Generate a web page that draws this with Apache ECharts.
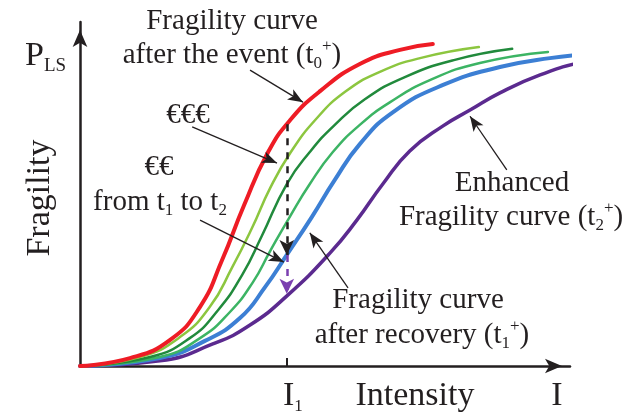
<!DOCTYPE html>
<html><head><meta charset="utf-8">
<script src="https://cdn.jsdelivr.net/npm/echarts@6/dist/echarts.min.js"></script>
<style>html,body{margin:0;padding:0;background:#fff}#c{width:630px;height:414px}</style>
</head><body><div id="c"></div>
<script>
// Intensity (0-100 scale of the axis) vs probability of exceeding limit state (0-100)
const redCurve = [[0,0],[10.2,2.3],[18.4,7.6],[24.5,17.2],[29.0,30.8],[33.5,46.8],[38.4,62.2],[42.9,71.5],[49.0,79.9],[57.1,87.8],[65.3,91.9],[72.0,93.6]];
const lightGreenCurve = [[0,0],[12.2,2.6],[20.4,8.4],[26.5,17.2],[31.0,28.5],[35.1,40.1],[38.8,51.7],[42.9,61.9],[48.0,71.5],[54.1,79.7],[61.2,85.5],[69.4,89.5],[81.4,92.7]];
const darkGreenCurve = [[0,0],[14.3,2.6],[22.4,8.1],[28.2,16.3],[33.1,26.5],[37.1,37.8],[42.2,52.9],[46.9,62.2],[52.0,70.1],[58.2,77.6],[66.3,84.0],[76.5,89.0],[88.2,92.2]];
const midGreenCurve = [[0,0],[16.3,2.6],[24.5,8.1],[30.6,15.7],[35.3,24.4],[38.8,33.4],[42.9,43.6],[46.9,52.9],[51.6,62.2],[57.1,70.1],[63.3,76.7],[71.4,83.1],[81.6,88.1],[95.5,91.3]];
const blueCurve = [[0,0],[16.3,2.3],[25.5,7.3],[32.7,14.0],[37.8,23.0],[42.2,32.3],[47.3,43.3],[52.0,54.1],[57.1,64.5],[63.9,73.8],[74.1,81.7],[85.7,86.9],[95.9,89.5],[104.7,90.7]];
const purpleCurve = [[0,0],[16.3,1.5],[27.1,6.4],[34.7,11.9],[42.4,20.6],[51.0,32.8],[56.5,42.4],[61.8,52.9],[67.3,62.5],[74.1,69.8],[79.6,74.4],[85.7,79.4],[93.9,84.6],[102.7,88.4],[112.2,90.4]];
const I1 = 42.2;
const pRed = 70.3, pBlue = 32.3, pPurple = 21.0;

const FF = '"Liberation Serif", "Times New Roman", serif';
const TXT = '#231f20';
const chart = echarts.init(document.getElementById('c'), null, {renderer: 'canvas'});

function curve(name, data, color, width) {
  return {name, type: 'line', data, smooth: 0.5, showSymbol: false,
    clip: false, silent: true, lineStyle: {color, width, cap: 'round'}, z: 3};
}
function arrow(a, b, color, width, type, size) {
  return [{coord: a, symbol: 'none'},
          {coord: b, symbol: 'arrow', symbolSize: size || [9, 15],
           lineStyle: {color, width, type: type || 'solid'}, itemStyle: {color}}];
}
const rich = {
  sub: {fontSize: 17, lineHeight: 17, verticalAlign: 'bottom', fontFamily: FF, fill: TXT},
  sup: {fontSize: 17, lineHeight: 17, verticalAlign: 'top', fontFamily: FF, fill: TXT},
  lsub: {fontSize: 19, lineHeight: 19, verticalAlign: 'bottom', fontFamily: FF, fill: TXT}
};
function label(text, x, y, size, align, extra) {
  return Object.assign({type: 'text', x, y, silent: true, z: 10,
    style: {text, fontSize: size, fontFamily: FF, fill: TXT, align: align || 'center',
      verticalAlign: 'middle', lineHeight: size + 5, rich}}, extra || {});
}

const series = [
  curve('t2+', purpleCurve, '#5b2a8f', 3.5),
  curve('t1+', blueCurve, '#3c7fd4', 4),
  curve('c4', midGreenCurve, '#3cb464', 2.5),
  curve('c3', darkGreenCurve, '#218a3c', 2.5),
  curve('c2', lightGreenCurve, '#8cc63f', 2.5),
  curve('t0+', redCurve, '#ee1c25', 4)
];
series[0].markLine = {
  silent: true, animation: false, label: {show: false}, symbol: ['none', 'arrow'],
  data: [
    arrow([I1, pRed], [I1, pBlue], '#231f20', 2.5, [7, 7], [11, 15]),
    arrow([I1, pBlue], [I1, pPurple], '#7b3fb0', 2.5, [7, 7], [11, 15]),
    [{coord: [I1, 0], symbol: 'none'}, {coord: [I1, 2.8], symbol: 'none', lineStyle: {color: '#231f20', width: 2}}],
    arrow([34.7, 86.0], [45.5, 76.7], '#231f20', 1.3),
    arrow([22.9, 69.5], [40.2, 59.0], '#231f20', 1.3),
    arrow([24.5, 42.4], [41.6, 30.2], '#231f20', 1.3),
    arrow([54.7, 22.7], [46.9, 38.7], '#231f20', 1.3),
    arrow([87.1, 57.0], [79.6, 72.6], '#231f20', 1.3)
  ]
};

const axisCommon = {
  type: 'value', min: 0, max: 100,
  axisLine: {show: true, symbol: ['none', 'arrow'], symbolSize: [11, 17], symbolOffset: [0, -8],
    lineStyle: {color: '#231f20', width: 2.5}},
  axisTick: {show: false}, axisLabel: {show: false}, splitLine: {show: false}
};

chart.setOption({
  animation: false,
  backgroundColor: '#fff',
  grid: {left: 80, right: 60, top: 22, bottom: 48},
  xAxis: Object.assign({}, axisCommon),
  yAxis: Object.assign({}, axisCommon),
  series,
  graphic: [
    label('Fragility curve', 232, 21, 29),
    label('after the event (t{sub|0}{sup|+})', 232, 55, 29),
    label('€€€', 188, 115, 29),
    label('€€', 159, 167, 29),
    label('from t{sub|1} to t{sub|2}', 160, 202, 29),
    label('Enhanced', 512, 183, 29),
    label('Fragility curve (t{sub|2}{sup|+})', 511, 217, 29),
    label('Fragility curve', 418, 300, 29),
    label('after recovery (t{sub|1}{sup|+})', 422, 335, 29),
    label('Intensity', 415, 396, 34),
    label('I', 557, 396, 34),
    label('I{sub|1}', 283, 396, 34, 'left'),
    label('P{lsub|LS}', 25, 56, 34, 'left'),
    label('Fragility', 40, 198, 34, 'center', {rotation: Math.PI / 2})
  ]
});
</script>
</body></html>
